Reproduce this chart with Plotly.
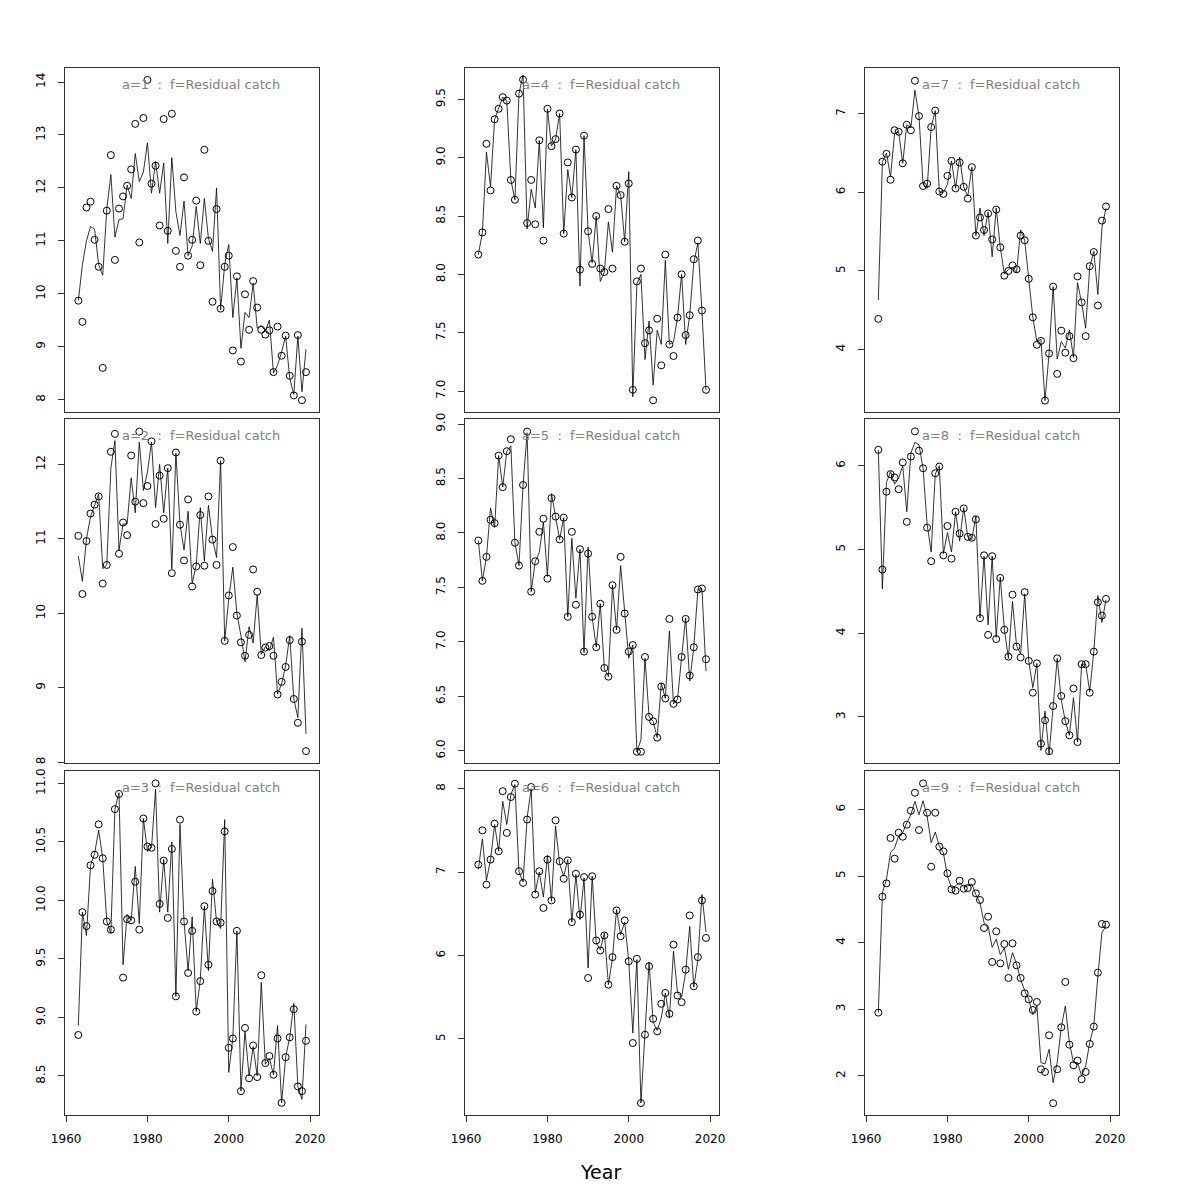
import plotly.graph_objects as go

years = list(range(1963, 2020))

# ---- a=1 ----
obs_a1 = [9.87,9.47,11.63,11.74,11.02,10.51,8.60,11.57,12.62,10.64,
          11.61,11.84,12.04,12.35,13.21,10.97,13.32,14.04,12.08,12.42,
          11.29,13.30,11.19,13.40,10.81,10.51,12.20,10.72,11.02,11.76,
          10.54,12.72,11.00,9.85,11.60,9.72,10.51,10.72,8.93,10.33,
          8.72,9.99,9.32,10.24,9.74,9.32,9.23,9.31,8.52,9.38,
          8.83,9.21,8.45,8.08,9.22,7.99,8.52]
fit_a1 = [9.87,10.55,11.0,11.27,11.22,10.55,10.35,11.6,12.25,11.07,
          11.4,11.42,12.05,11.8,12.65,12.12,12.3,12.85,11.9,12.5,
          11.9,12.47,10.95,12.57,11.55,11.1,11.75,10.72,10.9,11.65,
          10.95,11.8,11.05,10.8,12.0,9.7,10.55,10.93,9.55,10.3,
          8.97,9.65,9.55,10.2,9.35,9.4,9.3,9.5,8.5,8.65,
          8.9,9.2,8.4,8.1,9.2,8.15,8.95]
# ---- a=2 ----
obs_a2 = [11.04,10.26,10.97,11.34,11.46,11.57,10.40,10.65,12.17,12.41,
          10.80,11.22,11.05,12.12,11.50,12.44,11.48,11.71,12.31,11.20,
          11.85,11.27,11.95,10.54,12.16,11.19,10.71,11.53,10.36,10.63,
          11.32,10.64,11.57,10.99,10.65,12.05,9.63,10.24,10.89,9.97,
          9.61,9.43,9.71,10.59,10.29,9.44,9.54,9.56,9.43,8.91,
          9.08,9.28,9.64,8.85,8.53,9.62,8.15]
fit_a2 = [10.77,10.43,11.0,11.3,11.45,11.6,10.6,10.65,11.95,12.32,
          10.85,11.2,11.2,11.82,11.35,12.3,11.65,11.9,12.3,11.42,
          12.0,11.35,11.95,10.6,12.15,11.2,10.85,11.37,10.4,10.65,
          11.42,10.7,11.45,11.0,10.75,12.05,9.63,10.2,10.62,10.0,
          9.7,9.35,9.82,9.6,10.25,9.45,9.55,9.5,9.68,8.92,
          9.05,9.3,9.7,8.85,8.6,9.8,8.38]
# ---- a=3 ----
obs_a3 = [8.85,9.90,9.78,10.30,10.39,10.65,10.36,9.82,9.75,10.78,
          10.91,9.34,9.84,9.83,10.16,9.75,10.70,10.46,10.45,11.00,
          9.97,10.34,9.85,10.44,9.18,10.69,9.82,9.38,9.74,9.05,
          9.31,9.95,9.45,10.08,9.82,9.81,10.59,8.74,8.82,9.74,
          8.37,8.91,8.48,8.76,8.49,9.36,8.61,8.67,8.51,8.82,
          8.27,8.66,8.83,9.07,8.41,8.37,8.80]
fit_a3 = [8.93,9.9,9.7,10.3,10.4,10.6,10.36,9.82,9.72,10.78,
          10.92,9.45,9.88,9.83,10.29,9.8,10.7,10.42,10.45,10.95,
          9.9,10.35,9.9,10.5,9.18,10.65,9.82,9.4,9.86,9.05,
          9.32,9.95,9.4,10.18,9.82,9.76,10.69,8.53,8.82,9.74,
          8.37,8.88,8.5,8.75,8.5,9.3,8.6,8.65,8.51,8.93,
          8.27,8.66,8.83,9.12,8.41,8.3,8.94]
# ---- a=4 ----
obs_a4 = [8.17,8.36,9.12,8.72,9.33,9.42,9.52,9.49,8.81,8.64,
          9.55,9.67,8.44,8.81,8.43,9.15,8.29,9.42,9.10,9.16,
          9.38,8.35,8.96,8.66,9.07,8.04,9.19,8.37,8.09,8.50,
          8.05,8.02,8.56,8.05,8.76,8.68,8.28,8.78,7.01,7.94,
          8.05,7.41,7.52,6.92,7.62,7.22,8.17,7.40,7.30,7.63,
          8.00,7.48,7.65,8.13,8.29,7.69,7.01]
fit_a4 = [8.17,8.36,9.05,8.75,9.33,9.42,9.52,9.49,8.81,8.64,
          9.55,9.71,8.39,8.73,8.57,9.15,8.40,9.42,9.10,9.16,
          9.38,8.35,8.9,8.66,9.07,7.9,9.19,8.37,8.1,8.5,
          7.94,8.02,8.45,8.19,8.76,8.68,8.28,8.88,6.95,7.92,
          8.0,7.27,7.6,7.05,7.52,7.4,8.12,7.4,7.42,7.63,
          8.0,7.4,7.65,8.1,8.27,7.69,7.01]
# ---- a=5 ----
obs_a5 = [7.93,7.56,7.78,8.12,8.09,8.71,8.42,8.75,8.86,7.91,
          7.70,8.44,8.93,7.46,7.74,8.01,8.13,7.58,8.32,8.15,
          7.94,8.14,7.23,8.01,7.34,7.85,6.91,7.81,7.23,6.95,
          7.35,6.76,6.68,7.52,7.11,7.78,7.26,6.91,6.97,5.99,
          5.99,6.86,6.31,6.27,6.12,6.59,6.48,7.21,6.43,6.47,
          6.86,7.21,6.69,6.95,7.48,7.49,6.84]
fit_a5 = [7.93,7.56,7.78,8.23,8.05,8.71,8.42,8.75,8.8,7.91,
          7.7,8.44,8.92,7.46,7.74,7.82,8.1,7.6,8.36,8.15,
          7.94,8.14,7.23,7.95,7.4,7.85,6.9,7.87,7.23,6.95,
          7.35,6.75,6.68,7.52,7.11,7.7,7.26,6.85,6.97,5.99,
          6.1,6.85,6.31,6.27,6.12,6.62,6.48,7.1,6.43,6.47,
          6.86,7.22,6.64,6.95,7.48,7.49,6.73]
# ---- a=6 ----
obs_a6 = [7.09,7.50,6.85,7.15,7.58,7.25,7.97,7.47,7.90,8.06,
          7.01,6.87,7.63,8.02,6.73,7.01,6.57,7.15,6.66,7.62,
          7.13,6.92,7.14,6.40,6.98,6.49,6.94,5.73,6.95,6.18,
          6.06,6.24,5.65,5.98,6.54,6.23,6.42,5.93,4.95,5.96,
          4.23,5.05,5.87,5.24,5.09,5.42,5.55,5.30,6.13,5.52,
          5.44,5.83,6.48,5.63,5.98,6.66,6.21]
fit_a6 = [7.03,7.4,6.9,7.15,7.57,7.25,7.85,7.57,7.93,8.05,
          7.0,6.88,7.65,8.0,6.75,7.0,6.7,7.2,6.65,7.55,
          7.1,6.95,7.15,6.4,6.97,6.43,6.93,5.85,6.95,6.15,
          6.07,6.27,5.65,5.97,6.55,6.25,6.4,5.93,5.07,5.95,
          4.23,5.08,5.92,5.2,5.1,5.25,5.55,5.25,6.05,5.55,
          5.5,5.8,6.35,5.62,5.95,6.73,6.28]
# ---- a=7 ----
obs_a7 = [4.39,6.39,6.49,6.16,6.79,6.77,6.37,6.86,6.79,7.42,
          6.97,6.08,6.11,6.83,7.04,6.01,5.98,6.21,6.40,6.05,
          6.38,6.07,5.92,6.32,5.45,5.68,5.52,5.73,5.40,5.78,
          5.30,4.94,5.00,5.07,5.02,5.45,5.39,4.90,4.41,4.06,
          4.11,3.35,3.95,4.80,3.69,4.24,3.96,4.17,3.89,4.93,
          4.60,4.17,5.06,5.24,4.56,5.64,5.82]
fit_a7 = [4.63,6.39,6.5,6.2,6.75,6.77,6.37,6.86,6.82,7.3,
          6.97,6.1,6.05,6.83,7.04,6.0,6.0,6.1,6.4,6.05,
          6.45,6.07,5.95,6.32,5.45,5.8,5.45,5.75,5.18,5.8,
          5.3,4.96,5.02,5.05,4.98,5.52,5.39,4.9,4.41,4.1,
          4.13,3.35,3.95,4.8,3.88,4.1,4.02,4.25,3.9,4.85,
          4.6,4.27,5.05,5.25,4.7,5.55,5.8]
# ---- a=8 ----
obs_a8 = [6.19,4.76,5.69,5.90,5.86,5.72,6.04,5.33,6.11,6.41,
          6.18,5.97,5.26,4.86,5.91,5.99,4.93,5.28,4.89,5.45,
          5.19,5.49,5.15,5.14,5.36,4.18,4.93,3.98,4.92,3.93,
          4.66,4.04,3.72,4.46,3.84,3.71,4.49,3.67,3.29,3.64,
          2.68,2.96,2.59,3.13,3.70,3.25,2.95,2.78,3.34,2.70,
          3.63,3.63,3.29,3.78,4.37,4.21,4.41]
fit_a8 = [6.19,4.53,5.8,5.93,5.78,5.85,6.0,5.45,6.15,6.28,
          6.25,5.97,5.3,4.97,5.9,6.0,4.95,5.2,4.97,5.45,
          5.1,5.5,5.15,5.12,5.4,4.18,4.92,4.1,4.92,3.95,
          4.67,4.04,3.7,4.38,3.85,3.75,4.47,3.67,3.35,3.64,
          2.6,3.07,2.55,3.13,3.7,3.2,2.95,2.78,3.23,2.7,
          3.63,3.63,3.3,3.78,4.45,4.13,4.4]
# ---- a=9 ----
obs_a9 = [2.95,4.69,4.89,5.57,5.26,5.65,5.59,5.77,5.98,6.25,
          5.69,6.39,5.95,5.14,5.95,5.44,5.37,5.04,4.80,4.78,
          4.93,4.81,4.82,4.91,4.74,4.64,4.22,4.39,3.71,4.17,
          3.69,3.98,3.47,3.99,3.66,3.47,3.24,3.15,2.99,3.11,
          2.10,2.06,2.61,1.59,2.10,2.73,3.41,2.47,2.16,2.23,
          1.95,2.06,2.48,2.74,3.55,4.28,4.27]
fit_a9 = [2.95,4.75,4.95,5.35,5.42,5.6,5.65,5.8,5.92,6.12,
          5.92,6.13,5.9,5.5,5.66,5.45,5.35,5.0,4.82,4.85,
          4.9,4.83,4.85,4.88,4.72,4.6,4.3,4.25,3.93,4.05,
          3.82,3.92,3.6,3.85,3.68,3.45,3.28,3.15,2.92,3.05,
          2.2,2.18,2.4,1.9,2.2,2.73,3.05,2.5,2.2,2.2,
          2.0,2.15,2.5,2.75,3.5,4.15,4.25]

panel_labels = ["a=1", "a=2", "a=3", "a=4", "a=5", "a=6", "a=7", "a=8", "a=9"]
x_ticks = [1960, 1980, 2000, 2020]
y_ticks = {
    "a=1": [8, 9, 10, 11, 12, 13, 14],
    "a=2": [8, 9, 10, 11, 12],
    "a=3": [8.5, 9.0, 9.5, 10.0, 10.5, 11.0],
    "a=4": [7.0, 7.5, 8.0, 8.5, 9.0, 9.5],
    "a=5": [6.0, 6.5, 7.0, 7.5, 8.0, 8.5, 9.0],
    "a=6": [5, 6, 7, 8],
    "a=7": [4, 5, 6, 7],
    "a=8": [3, 4, 5, 6],
    "a=9": [2, 3, 4, 5, 6],
}
y_fmt = {"a=3": ".1f", "a=4": ".1f", "a=5": ".1f"}
y_ranges = {
    "a=1": [7.767, 14.265], "a=2": [7.99, 12.61], "a=3": [8.166, 11.106],
    "a=4": [6.82, 9.77], "a=5": [5.887, 9.046], "a=6": [4.087, 8.212],
    "a=7": [3.205, 7.582], "a=8": [2.45, 6.558], "a=9": [1.414, 6.576],
}
obs = [obs_a1, obs_a2, obs_a3, obs_a4, obs_a5, obs_a6, obs_a7, obs_a8, obs_a9]
fit = [fit_a1, fit_a2, fit_a3, fit_a4, fit_a5, fit_a6, fit_a7, fit_a8, fit_a9]

W = H = 1200
col_px = [(65, 319), (465, 719), (865, 1119)]
row_px = [(68, 412), (419, 763), (771, 1115)]
FONT = "DejaVu Sans"

fig = go.Figure()
layout = {}
annotations = []
for k, lab in enumerate(panel_labels):
    c, r = k // 3, k % 3
    idx = k + 1
    xa = "x" if idx == 1 else f"x{idx}"
    ya = "y" if idx == 1 else f"y{idx}"
    fig.add_trace(go.Scatter(x=years, y=fit[k], mode="lines",
                             line=dict(color="black", width=0.8),
                             xaxis=xa, yaxis=ya, showlegend=False, hoverinfo="skip"))
    fig.add_trace(go.Scatter(x=years, y=obs[k], mode="markers",
                             marker=dict(symbol="circle-open", size=7, color="black",
                                         line=dict(width=1, color="black")),
                             xaxis=xa, yaxis=ya, showlegend=False))
    x0, x1 = col_px[c]
    y0, y1 = row_px[r]
    bottom = (r == 2)
    layout["xaxis" if idx == 1 else f"xaxis{idx}"] = dict(
        domain=[x0 / W, x1 / W], range=[1959.72, 2022.2], anchor=ya,
        automargin=False,
        showgrid=False, zeroline=False, showline=True, mirror=True,
        linecolor="#333", linewidth=1,
        tickvals=x_ticks if bottom else [], ticks="outside" if bottom else "",
        ticklen=6, tickcolor="#333", showticklabels=bottom,
        ticklabelstandoff=7,
        tickfont=dict(family=FONT, size=12, color="black"))
    layout["yaxis" if idx == 1 else f"yaxis{idx}"] = dict(
        domain=[1 - y1 / H, 1 - y0 / H], range=y_ranges[lab], anchor=xa,
        automargin=False,
        showgrid=False, zeroline=False, showline=True, mirror=True,
        linecolor="#333", linewidth=1,
        tickvals=y_ticks[lab], tickformat=y_fmt.get(lab, ""),
        ticks="outside", ticklen=6, tickcolor="#333", tickangle=-90,
        ticklabelstandoff=8,
        tickfont=dict(family=FONT, size=12, color="black"))
    cx = (x0 + x1) / 2 + 8.5
    annotations.append(dict(
        x=cx / W, y=1 - (y0 + 16) / H, xref="paper", yref="paper",
        text=f"{lab}\u00a0 :\u00a0 f=Residual catch", showarrow=False,
        xanchor="center", yanchor="middle",
        font=dict(family=FONT, size=13, color="#808080")))

annotations.append(dict(x=600 / W, y=1 - 1172 / H, xref="paper", yref="paper",
                        text="Year", showarrow=False, xanchor="center", yanchor="middle",
                        font=dict(family=FONT, size=19, color="black")))

fig.update_layout(width=W, height=H, margin=dict(l=0, r=0, t=0, b=0, autoexpand=False),
                  paper_bgcolor="white", plot_bgcolor="white",
                  annotations=annotations, **layout)
fig.write_html("out.html", config={"displayModeBar": False},
               post_script="document.body.style.margin='0px';")
